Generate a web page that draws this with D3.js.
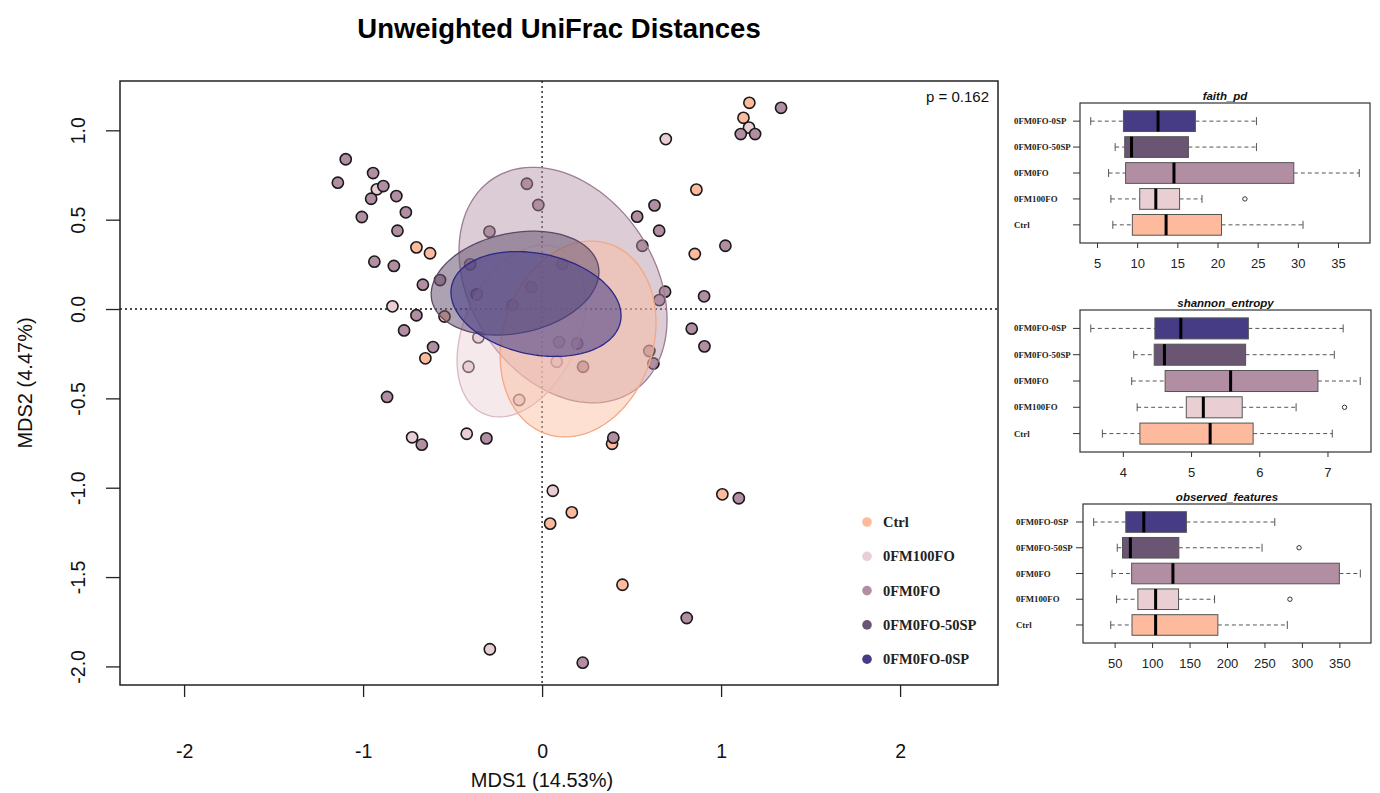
<!DOCTYPE html>
<html>
<head>
<meta charset="utf-8">
<script src="https://cdn.jsdelivr.net/npm/d3@7"></script>
<style>
  body { margin: 0; background: #fff; }
  svg { display: block; font-family: "Liberation Sans", Arial, sans-serif; }
</style>
</head>
<body>
<div id="chart"></div>
<script>
// Groups, bottom to top in the box plots
var groups = ["Ctrl", "0FM100FO", "0FM0FO", "0FM0FO-50SP", "0FM0FO-0SP"];
var groupColors = ["#fdba9c", "#e9cfd4", "#b28ea3", "#6a5672", "#463c85"];
var ellipseStroke = ["#f4a783", "#d8b9bf", "#9c7d92", "#5b4966", "#2c2888"];

// PCoA points [MDS1, MDS2] per group
var ctrlPts = [[1.158, 1.154], [1.125, 1.070], [0.862, 0.668], [0.853, 0.308], [-0.702, 0.345],
  [-0.626, 0.312], [-0.545, -0.042], [-0.652, -0.276], [0.391, -0.754], [0.166, -1.138],
  [0.045, -1.201], [1.007, -1.037], [0.449, -1.543]];
var fm100Pts = [[-0.923, 0.670], [1.156, 1.015], [0.691, 0.951], [-0.836, 0.015], [-0.356, -0.159],
  [-0.411, -0.323], [-0.128, -0.509], [0.082, -0.295], [-0.726, -0.718], [-0.421, -0.698],
  [0.060, -1.017], [-0.292, -1.904]];
var fm0Pts = [[-1.097, 0.838], [-0.944, 0.761], [-1.141, 0.707], [-0.887, 0.688], [-0.955, 0.617],
  [-0.814, 0.632], [-0.761, 0.541], [-1.007, 0.515], [-0.808, 0.438], [-0.937, 0.265],
  [-0.828, 0.241], [-0.666, 0.136], [-0.570, 0.162], [-0.702, -0.035], [-0.771, -0.120],
  [-0.609, -0.213], [-0.866, -0.492], [-0.672, -0.759], [-0.311, -0.724], [-0.085, 0.701],
  [-0.021, 0.582], [-0.294, 0.433], [-0.402, 0.250], [-0.365, 0.082], [-0.164, 0.022],
  [-0.061, 0.123], [0.113, 0.253], [0.095, -0.185], [0.196, -0.193], [0.229, -0.323],
  [0.599, -0.235], [0.622, -0.305], [0.531, 0.517], [0.628, 0.580], [0.654, 0.438],
  [0.560, 0.354], [0.687, 0.097], [0.655, 0.050], [0.905, 0.071], [0.836, -0.110],
  [0.907, -0.209], [1.024, 0.354], [1.335, 1.126], [1.110, 0.979], [1.190, 0.979],
  [0.398, -0.720], [1.099, -1.059], [0.808, -1.729], [0.227, -1.979]];

// Confidence ellipses: [centerX, centerY, semiMajor, semiMinor, angleDeg]
var ellipses = [
  [0.117, 0.134, 0.712, 0.515, -56.8],   // 0FM0FO
  [-0.117, -0.123, 0.508, 0.318, 65.5],  // 0FM100FO
  [0.201, -0.168, 0.560, 0.420, 72],     // Ctrl
  [-0.151, 0.145, 0.475, 0.280, 11.7],   // 0FM0FO-50SP
  [-0.034, 0.028, 0.482, 0.282, -12]     // 0FM0FO-0SP
];
var ellipseGroup = [2, 1, 0, 3, 4];

var xTicks = [-2, -1, 0, 1, 2];
var yTicks = [-2.0, -1.5, -1.0, -0.5, 0.0, 0.5, 1.0];
var xLim = [-2.358, 2.547];
var yLim = [-2.104, 1.276];

// Alpha diversity boxplot stats [min, q1, median, q3, max], order = groups
var faithStats = [[6.97, 9.40, 13.6, 20.5, 30.65], [6.73, 10.32, 12.32, 15.28, 18.07],
  [6.44, 8.56, 14.58, 29.5, 37.65], [7.26, 8.45, 9.3, 16.38, 24.85], [4.22, 8.29, 12.6, 17.25, 24.85]];
var faithOut = [[], [23.41], [], [], []];
var faithTicks = [5, 10, 15, 20, 25, 30, 35];

var shannonStats = [[3.70, 4.25, 5.28, 5.91, 7.07], [4.21, 4.93, 5.18, 5.75, 6.54],
  [4.13, 4.62, 5.58, 6.86, 7.48], [4.16, 4.46, 4.61, 5.80, 7.10], [3.53, 4.47, 4.85, 5.84, 7.23]];
var shannonOut = [[], [7.25], [], [], []];
var shannonTicks = [4, 5, 6, 7];

var observedStats = [[44.8, 73.2, 104.7, 187.8, 280.5], [52.6, 81.0, 104.7, 135.3, 183.4],
  [46.5, 72.7, 127.8, 350, 378], [53.5, 60.5, 71.0, 135.7, 246.8], [22.0, 64.9, 88.9, 145.8, 263.8]];
var observedOut = [[], [284], [], [296.2], []];
var observedTicks = [50, 100, 150, 200, 250, 300, 350];

var svg = d3.select("#chart").append("svg")
    .attr("width", 1380)
    .attr("height", 793);

svg.append("rect").attr("width", 1380).attr("height", 793).attr("fill", "#fff");

// ---------- main PCoA panel ----------
var frame = { left: 120, right: 998, top: 81, bottom: 685 };

var xScale = d3.scaleLinear().domain(xLim).range([frame.left, frame.right]);
var yScale = d3.scaleLinear().domain(yLim).range([frame.bottom, frame.top]);

svg.append("text")
    .attr("x", 559).attr("y", 38)
    .attr("text-anchor", "middle")
    .attr("font-size", "27.5px").attr("font-weight", "bold")
    .text("Unweighted UniFrac Distances");

// dotted zero lines
svg.append("line")
    .attr("x1", xScale(0)).attr("x2", xScale(0))
    .attr("y1", frame.top).attr("y2", frame.bottom)
    .attr("stroke", "#111").attr("stroke-width", 1.3).attr("stroke-dasharray", "2,3");
svg.append("line")
    .attr("x1", frame.left).attr("x2", frame.right)
    .attr("y1", yScale(0)).attr("y2", yScale(0))
    .attr("stroke", "#111").attr("stroke-width", 1.3).attr("stroke-dasharray", "2,3");

// points
var allPts = [];
[[ctrlPts, 0], [fm100Pts, 1], [fm0Pts, 2]].forEach(function(p) {
    p[0].forEach(function(d) { allPts.push({ x: d[0], y: d[1], g: p[1] }); });
});

svg.append("g").selectAll("circle")
    .data(allPts)
    .enter()
    .append("circle")
    .attr("cx", d => xScale(d.x))
    .attr("cy", d => yScale(d.y))
    .attr("r", 5.6)
    .attr("fill", d => groupColors[d.g])
    .attr("stroke", "#1a1a1a")
    .attr("stroke-width", 1.6);

// ellipses
function ellipsePoints(e) {
    var th = e[4] * Math.PI / 180;
    var pts = [];
    for (var i = 0; i < 120; i++) {
        var t = i / 120 * 2 * Math.PI;
        pts.push([
            e[0] + e[2] * Math.cos(th) * Math.cos(t) - e[3] * Math.sin(th) * Math.sin(t),
            e[1] + e[2] * Math.sin(th) * Math.cos(t) + e[3] * Math.cos(th) * Math.sin(t)
        ]);
    }
    return pts;
}
var ellipseLine = d3.line()
    .x(d => xScale(d[0]))
    .y(d => yScale(d[1]))
    .curve(d3.curveLinearClosed);
var ellipseOpacity = [0.45, 0.45, 0.45, 0.55, 0.55];

svg.append("g").selectAll("path")
    .data(ellipses)
    .enter()
    .append("path")
    .attr("d", d => ellipseLine(ellipsePoints(d)))
    .attr("fill", (d, i) => groupColors[ellipseGroup[i]])
    .attr("fill-opacity", (d, i) => ellipseOpacity[ellipseGroup[i]])
    .attr("stroke", (d, i) => ellipseStroke[ellipseGroup[i]])
    .attr("stroke-width", 1.3);

// frame + axes
svg.append("rect")
    .attr("x", frame.left).attr("y", frame.top)
    .attr("width", frame.right - frame.left).attr("height", frame.bottom - frame.top)
    .attr("fill", "none").attr("stroke", "#222").attr("stroke-width", 1.5);

var bottomAxis = d3.axisBottom(xScale).tickValues(xTicks).tickSize(12).tickSizeOuter(0)
    .tickPadding(47).tickFormat(d => String(d));
var gx = svg.append("g")
    .attr("transform", `translate(0, ${frame.bottom})`)
    .call(bottomAxis);
gx.select(".domain").remove();
gx.selectAll("line").attr("stroke", "#222").attr("stroke-width", 1.3);
gx.selectAll("text").attr("font-size", "19.5px").attr("fill", "#111")
    .attr("font-family", "'Liberation Sans', Arial, sans-serif");

var leftAxis = d3.axisLeft(yScale).tickValues(yTicks).tickSize(14).tickSizeOuter(0)
    .tickFormat(d => d.toFixed(1));
var gy = svg.append("g")
    .attr("transform", `translate(${frame.left}, 0)`)
    .call(leftAxis);
gy.select(".domain").remove();
gy.selectAll("line").attr("stroke", "#222").attr("stroke-width", 1.3);
gy.selectAll("text")
    .attr("font-size", "19.5px").attr("fill", "#111")
    .attr("font-family", "'Liberation Sans', Arial, sans-serif")
    .attr("x", 0).attr("dy", null)
    .attr("text-anchor", "middle")
    .attr("dominant-baseline", "central")
    .attr("transform", "translate(-42, 0) rotate(-90)");

svg.append("text")
    .attr("x", 542).attr("y", 787)
    .attr("text-anchor", "middle").attr("font-size", "20px").attr("fill", "#111")
    .text("MDS1 (14.53%)");
svg.append("text")
    .attr("transform", "translate(32, 383) rotate(-90)")
    .attr("text-anchor", "middle").attr("font-size", "20px").attr("fill", "#111")
    .text("MDS2 (4.47%)");

svg.append("text")
    .attr("x", 989).attr("y", 102)
    .attr("text-anchor", "end").attr("font-size", "15px").attr("fill", "#111")
    .text("p = 0.162");

// legend
var legend = svg.append("g").selectAll("g")
    .data(groups)
    .enter()
    .append("g")
    .attr("transform", (d, i) => `translate(867, ${522 + i * 34.3})`);
legend.append("circle").attr("r", 4.8).attr("fill", (d, i) => groupColors[i]);
legend.append("text")
    .attr("x", 16).attr("dy", "0.35em")
    .attr("font-family", "'Liberation Serif', 'Times New Roman', serif")
    .attr("font-weight", "bold").attr("font-size", "14.5px").attr("fill", "#222")
    .text(d => d);

// ---------- alpha diversity boxplots ----------
function boxPanel(title, stats, outliers, ticks, box) {
    var allVals = [];
    stats.forEach(s => allVals.push(s[0], s[4]));
    outliers.forEach(o => o.forEach(v => allVals.push(v)));
    var ext = d3.extent(allVals);
    var pad = (ext[1] - ext[0]) * 0.04;
    var xs = d3.scaleLinear().domain([ext[0] - pad, ext[1] + pad]).range([box.left, box.right]);
    var ys = d3.scaleLinear().domain([0.3, 5.7]).range([box.bottom, box.top]);
    var half = (ys(0) - ys(0.4));
    var g = svg.append("g");

    g.append("text")
        .attr("x", (box.left + box.right) / 2).attr("y", box.top - 3)
        .attr("text-anchor", "middle")
        .attr("font-size", "11.5px").attr("font-weight", "bold").attr("font-style", "italic")
        .attr("fill", "#111")
        .text(title);

    var rows = g.selectAll("g.row")
        .data(stats)
        .enter()
        .append("g")
        .attr("class", "row");

    // whiskers
    rows.append("line")
        .attr("x1", d => xs(d[0])).attr("x2", d => xs(d[1]))
        .attr("y1", (d, i) => ys(i + 1)).attr("y2", (d, i) => ys(i + 1))
        .attr("stroke", "#555").attr("stroke-dasharray", "4,3");
    rows.append("line")
        .attr("x1", d => xs(d[3])).attr("x2", d => xs(d[4]))
        .attr("y1", (d, i) => ys(i + 1)).attr("y2", (d, i) => ys(i + 1))
        .attr("stroke", "#555").attr("stroke-dasharray", "4,3");
    [0, 4].forEach(function(k) {
        rows.append("line")
            .attr("x1", d => xs(d[k])).attr("x2", d => xs(d[k]))
            .attr("y1", (d, i) => ys(i + 1) - 4).attr("y2", (d, i) => ys(i + 1) + 4)
            .attr("stroke", "#555");
    });
    rows.append("rect")
        .attr("x", d => xs(d[1]))
        .attr("width", d => xs(d[3]) - xs(d[1]))
        .attr("y", (d, i) => ys(i + 1) - half)
        .attr("height", half * 2)
        .attr("fill", (d, i) => groupColors[i])
        .attr("stroke", "#555").attr("stroke-width", 1);
    rows.append("line")
        .attr("x1", d => xs(d[2])).attr("x2", d => xs(d[2]))
        .attr("y1", (d, i) => ys(i + 1) - half).attr("y2", (d, i) => ys(i + 1) + half)
        .attr("stroke", "#000").attr("stroke-width", 3);

    outliers.forEach(function(o, i) {
        g.selectAll(null).data(o).enter().append("circle")
            .attr("cx", d => xs(d)).attr("cy", ys(i + 1)).attr("r", 2.2)
            .attr("fill", "none").attr("stroke", "#333").attr("stroke-width", 1);
    });

    g.append("rect")
        .attr("x", box.left).attr("y", box.top)
        .attr("width", box.right - box.left).attr("height", box.bottom - box.top)
        .attr("fill", "none").attr("stroke", "#333").attr("stroke-width", 1.2);

    var ax = g.append("g")
        .attr("transform", `translate(0, ${box.bottom})`)
        .call(d3.axisBottom(xs).tickValues(ticks).tickSize(5).tickSizeOuter(0).tickPadding(11)
            .tickFormat(d => String(d)));
    ax.select(".domain").remove();
    ax.selectAll("line").attr("stroke", "#333");
    ax.selectAll("text").attr("font-size", "13px").attr("fill", "#222")
        .attr("font-family", "'Liberation Sans', Arial, sans-serif");

    groups.forEach(function(name, i) {
        g.append("line")
            .attr("x1", box.left - 7).attr("x2", box.left)
            .attr("y1", ys(i + 1)).attr("y2", ys(i + 1))
            .attr("stroke", "#333");
        g.append("text")
            .attr("x", box.labelX).attr("y", ys(i + 1)).attr("dy", "0.35em")
            .attr("font-family", "'Liberation Serif', 'Times New Roman', serif")
            .attr("font-weight", "bold").attr("font-size", "8.8px").attr("fill", "#222")
            .text(name);
    });
}

boxPanel("faith_pd", faithStats, faithOut, faithTicks,
    { left: 1080, right: 1370, top: 103, bottom: 243, labelX: 1014 });
boxPanel("shannon_entropy", shannonStats, shannonOut, shannonTicks,
    { left: 1080, right: 1371, top: 310, bottom: 452, labelX: 1014 });
boxPanel("observed_features", observedStats, observedOut, observedTicks,
    { left: 1083, right: 1371, top: 504, bottom: 643, labelX: 1016 });
</script>
</body>
</html>
